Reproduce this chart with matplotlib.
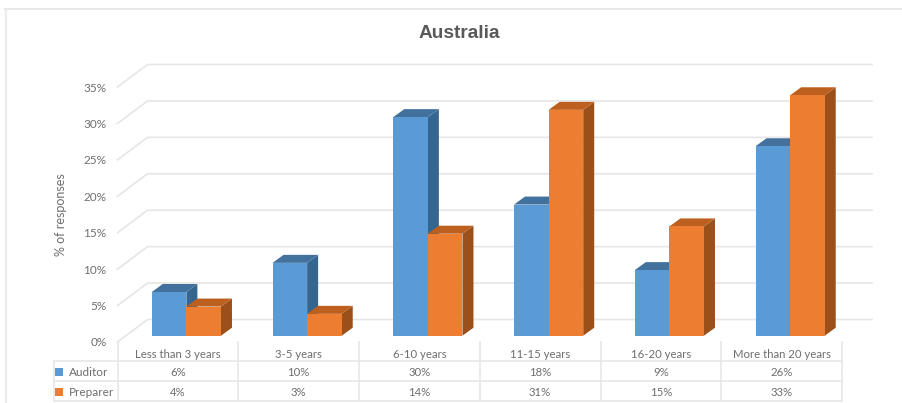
"""Australia: years of experience of auditors and preparers, as an oblique 3D bar chart."""
import matplotlib
matplotlib.use('Agg')
import matplotlib.pyplot as plt
from matplotlib.lines import Line2D

W, H = 902, 403

CATEGORIES = ['Less than 3 years', '3-5 years', '6-10 years',
              '11-15 years', '16-20 years', 'More than 20 years']
AUDITOR = [6, 10, 30, 18, 9, 26]
PREPARER = [4, 3, 14, 31, 15, 33]
Y_TICKS = [0, 5, 10, 15, 20, 25, 30, 35]

TEXT = '#6e6e6e'
GRID = '#e6e6e6'
BLUE = ('#5b9bd5', '#35668f', '#41719c')
ORANGE = ('#ed7d31', '#9b5019', '#bd601f')

plt.rcParams['font.family'] = ['Lato', 'DejaVu Sans']

# pixel sizes of the oblique depth, converted to data units below
DEPTH_PX = (30.0, 22.5)
X0, X1 = 117.5, 842.0
Y0, Y35 = 342.0, 87.0


def box(ax, x0, x1, val, colors, ux, uy):
    # front face sits part way into the floor, with a shallow depth
    fx, fy = 8.5 * ux, 6.3 * uy
    dx, dy = 11.0 * ux, 8.0 * uy
    l, r = x0 + fx, x1 + fx
    b, t = fy, val + fy
    ax.fill([r, r + dx, r + dx, r], [b, b + dy, t + dy, t], color=colors[1], lw=0, zorder=3)
    ax.fill([l, r, r + dx, l + dx], [t, t, t + dy, t + dy], color=colors[2], lw=0, zorder=3)
    ax.fill([l, r, r, l], [b, b, t, t], color=colors[0], lw=0, zorder=3)


def main():
    fig = plt.figure(figsize=(W / 100, H / 100), dpi=100)
    fig.patch.set_facecolor('white')

    # outer chart frame, open on the right
    frame_y = 1 - 9 / H
    fig.add_artist(Line2D([5.5 / W, 5.5 / W], [0, frame_y], color='#ececec', lw=1.5))
    fig.add_artist(Line2D([5 / W, 1], [frame_y, frame_y], color='#e8e8e8', lw=1.5))

    ax = fig.add_axes([X0 / W, 1 - Y0 / H, (X1 - X0) / W, (Y0 - Y35) / H])
    ax.set_xlim(0, len(CATEGORIES))
    ax.set_ylim(0, 35)
    ax.patch.set_visible(False)
    for s in ax.spines.values():
        s.set_visible(False)
    ux = len(CATEGORIES) / (X1 - X0)
    uy = 35 / (Y0 - Y35)
    ddx, ddy = DEPTH_PX[0] * ux, DEPTH_PX[1] * uy

    # walls: diagonal from the front edge, then the horizontal back line
    x_back = len(CATEGORIES) + 30.0 * ux
    for v in Y_TICKS:
        ax.plot([0, ddx, x_back], [v, v + ddy, v + ddy], color=GRID, lw=1.2,
                clip_on=False, zorder=1, solid_joinstyle='miter')

    bar_w = 34.6 * ux
    for i in range(len(CATEGORIES)):
        x = i + 0.5
        box(ax, x - bar_w, x, AUDITOR[i], BLUE, ux, uy)
        box(ax, x, x + bar_w, PREPARER[i], ORANGE, ux, uy)

    ax.set_xticks([])
    ax.set_yticks(Y_TICKS)
    ax.set_yticklabels([f'{v}%' for v in Y_TICKS], fontsize=8.5, color=TEXT)
    ax.tick_params(axis='y', length=0, pad=8)
    ax.set_ylabel('% of responses', fontsize=9, color=TEXT, labelpad=12)

    fig.text(459 / W, 1 - 33 / H, 'Australia', ha='center', va='center',
             fontsize=13.7, fontweight='bold', color='#595959', family='Liberation Sans')

    # data table under the plot, one row unit per line of text
    tax = fig.add_axes([X0 / W, 1 - 401 / H, (X1 - X0) / W, 59 / H])
    tax.set_xlim(0, len(CATEGORIES))
    tax.set_ylim(59, 0)
    tax.axis('off')
    line = dict(color=GRID, lw=1.2, clip_on=False)
    left = -63.5 * ux
    for y in (19, 39, 59):
        tax.plot([left, len(CATEGORIES)], [y, y], **line)
    tax.plot([left, left], [19, 59], **line)
    for i in range(len(CATEGORIES) + 1):
        tax.plot([i, i], [0, 59], **line)

    txt = dict(ha='center', va='center', fontsize=8.2, color=TEXT)
    for i, cat in enumerate(CATEGORIES):
        tax.text(i + 0.5, 13, cat, **txt)
        tax.text(i + 0.5, 30, f'{AUDITOR[i]}%', **txt)
        tax.text(i + 0.5, 50, f'{PREPARER[i]}%', **txt)

    for y, name, col in ((30, 'Auditor', BLUE[0]), (50, 'Preparer', ORANGE[0])):
        tax.plot([-58.5 * ux], [y], marker='s', ms=5.5, color=col, mew=0, clip_on=False)
        tax.text(-48.5 * ux, y, name, ha='left', va='center', fontsize=8.5, color=TEXT)

    plt.savefig('out.png', dpi=100)
    plt.close()


if __name__ == '__main__':
    main()
